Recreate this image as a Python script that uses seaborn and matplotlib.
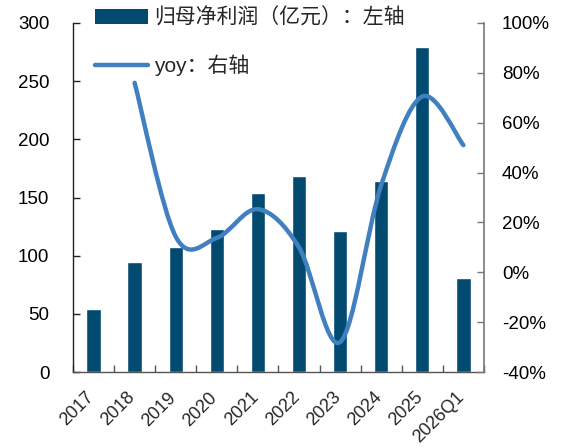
import numpy as np
import pandas as pd
import matplotlib
matplotlib.use("Agg")
import matplotlib.pyplot as plt
import matplotlib.transforms as mtransforms
from matplotlib.path import Path
from matplotlib.patches import PathPatch, Patch
from matplotlib.lines import Line2D
import seaborn as sns

# Data
years = ["2017", "2018", "2019", "2020", "2021", "2022", "2023", "2024", "2025", "2026Q1"]
profit = [54, 94.3, 107.8, 122.7, 153.9, 168.6, 121.5, 164, 279.7, 80.5]   # 亿元
yoy_years = years[1:]
yoy = [76, 14.3, 13.8, 25.3, 10, -28, 35, 70.5, 51]                        # %

bar_label = "归母净利润（亿元）：左轴"
line_label = "yoy：右轴"

bar_color = "#024A70"
line_color = "#4080C0"

sns.set_theme(style="white")
plt.rcParams["font.family"] = ["Liberation Sans", "Noto Sans CJK SC"]

fig = plt.figure(figsize=(5.68, 4.48), dpi=100)
ax = fig.add_axes([0.1285, 0.1696, 0.7235, 0.7791])

df = pd.DataFrame({"year": years, "profit": profit})
sns.barplot(data=df, x="year", y="profit", color=bar_color, width=0.35,
            saturation=1, ax=ax)

ax.set_xlim(-0.5, len(years) - 0.5)
ax.set_ylim(0, 300)
ax.set_yticks(np.arange(0, 301, 50))
ax.set_xlabel("")
ax.set_ylabel("")

# Right axis for the growth rate
ax2 = ax.twinx()
ax2.set_ylim(-40, 100)
ax2.set_yticks(np.arange(-40, 101, 20))
ax2.set_yticklabels([f"{v}%" for v in range(-40, 101, 20)])

# Smoothed growth curve: cubic Bezier segments through each data point
xpos = np.array([years.index(y) for y in yoy_years], dtype=float)
pts = np.column_stack([xpos, np.array(yoy, dtype=float)])
verts = [tuple(pts[0])]
codes = [Path.MOVETO]
n = len(pts)
for i in range(n - 1):
    p0 = pts[max(i - 1, 0)]
    p1 = pts[i]
    p2 = pts[i + 1]
    p3 = pts[min(i + 2, n - 1)]
    c1 = p1 + (p2 - p0) / 6.0
    c2 = p2 - (p3 - p1) / 6.0
    verts += [tuple(c1), tuple(c2), tuple(p2)]
    codes += [Path.CURVE4, Path.CURVE4, Path.CURVE4]
curve = PathPatch(Path(verts, codes), facecolor="none", edgecolor=line_color,
                  lw=3.2, capstyle="round", joinstyle="round", zorder=3)
ax2.add_patch(curve)

# Spines and ticks
for a in (ax, ax2):
    a.spines["top"].set_visible(False)
    a.grid(False)
ax.spines["right"].set_visible(False)
ax2.spines["left"].set_visible(False)
ax2.spines["bottom"].set_visible(False)
ax.spines["left"].set_color("#222222")
ax.spines["bottom"].set_color("#555555")
ax2.spines["right"].set_color("#777777")
for s in ("left", "bottom"):
    ax.spines[s].set_linewidth(1.0)
ax2.spines["right"].set_linewidth(1.2)

ax.tick_params(axis="y", direction="in", length=5, width=1, color="#222222",
               labelsize=13.5, labelcolor="black", pad=17, left=True)
ax2.tick_params(axis="y", direction="in", length=5, width=1, color="#777777",
                labelsize=13.5, labelcolor="black", pad=13, right=True)

ax.set_xticks(np.arange(len(years)))
ax.set_xticklabels(years, rotation=45, ha="right", rotation_mode="anchor")
ax.set_xticks(np.arange(-0.5, len(years), 1.0), minor=True)
ax.tick_params(axis="x", which="major", length=0, pad=10, bottom=True,
               labelsize=13)
ax.tick_params(axis="x", which="minor", direction="in", length=5, width=1,
               color="#555555", bottom=True)
shift = mtransforms.ScaledTranslation(-8 / 100, -3 / 100, fig.dpi_scale_trans)
for lbl in ax.get_xticklabels():
    lbl.set_transform(lbl.get_transform() + shift)

# Legend
handles = [Patch(facecolor=bar_color, edgecolor="none"),
           Line2D([0], [0], color=line_color, lw=3.2, solid_capstyle="round")]
fig.legend(handles, [bar_label, line_label], loc="upper left",
           bbox_to_anchor=(0.163, 0.988), frameon=False, fontsize=15,
           handlelength=2.55, handleheight=0.7, handletextpad=0.3,
           labelspacing=1.3, borderpad=0.1, borderaxespad=0)

fig.savefig("out.png", dpi=100)
